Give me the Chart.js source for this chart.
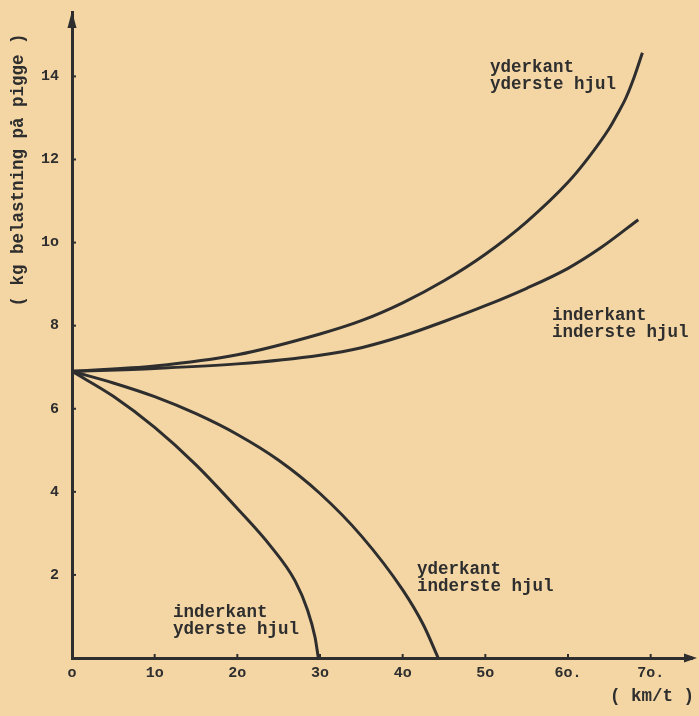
<!DOCTYPE html>
<html>
<head>
<meta charset="utf-8">
<script src="https://cdn.jsdelivr.net/npm/chart.js@4.4.1/dist/chart.umd.min.js"></script>
<style>
html,body{margin:0;padding:0;background:#f4d6a5;}
#wrap{width:699px;height:716px;}
</style>
</head>
<body>
<div id="wrap"><canvas id="c" width="699" height="716"></canvas></div>
<script>
// ---- data ----
const xTicks = [0, 10, 20, 30, 40, 50, 60, 70];
const xTickLabels = ['o', '1o', '2o', '3o', '4o', '5o', '6o.', '7o.'];
const yTicks = [2, 4, 6, 8, 10, 12, 14];
const yTickLabels = ['2', '4', '6', '8', '1o', '12', '14'];

// inderkant yderste hjul
const speedA = [0, 5, 10, 15, 20, 24, 27, 28.5, 29.4, 29.8];
const loadA  = [6.9, 6.3, 5.55, 4.65, 3.6, 2.7, 1.85, 1.15, 0.5, 0];
// yderkant inderste hjul
const speedB = [0, 5, 10, 15, 20, 25, 30, 35, 40, 42.5, 44.3];
const loadB  = [6.9, 6.62, 6.29, 5.88, 5.38, 4.76, 3.96, 2.94, 1.64, 0.8, 0];
// yderkant yderste hjul
const speedC = [0, 10, 20, 30, 35, 40, 45, 50, 55, 60, 62.5, 65, 66, 67, 68, 69];
const loadC  = [6.9, 7.03, 7.3, 7.8, 8.12, 8.55, 9.08, 9.72, 10.5, 11.45, 12.05, 12.75, 13.1, 13.48, 13.98, 14.57];
// inderkant inderste hjul
const speedD = [0, 10, 20, 30, 35, 40, 45, 50, 55, 60, 64, 68.5];
const loadD  = [6.9, 6.97, 7.08, 7.29, 7.47, 7.75, 8.1, 8.48, 8.9, 9.38, 9.88, 10.55];

const yTitle = '( kg belastning på pigge )';
const xTitle = '( km/t )';

// ---- styles ----
const INK = '#2e2e2e';
const PAPER = '#f4d6a5';
const FONT = '"Liberation Mono", "Courier New", monospace';

function pts(xs, ys) { return xs.map((x, i) => ({ x: x, y: ys[i] })); }
function ds(xs, ys) {
  return {
    data: pts(xs, ys), showLine: true, borderColor: INK, borderWidth: 3,
    pointRadius: 0, pointHoverRadius: 0, cubicInterpolationMode: 'monotone', fill: false
  };
}

const labelTexts = [
  { lines: ['yderkant', 'yderste hjul'], x: 490, y: 68 },
  { lines: ['inderkant', 'inderste hjul'], x: 552, y: 316 },
  { lines: ['yderkant', 'inderste hjul'], x: 417, y: 570 },
  { lines: ['inderkant', 'yderste hjul'], x: 173, y: 613 }
];

const decor = {
  id: 'decor',
  beforeDraw(chart) {
    const c = chart.ctx;
    c.save();
    c.fillStyle = PAPER;
    c.fillRect(0, 0, chart.width, chart.height);
    c.restore();
  },
  afterDraw(chart) {
    const c = chart.ctx, a = chart.chartArea;
    const xs = chart.scales.x, ys = chart.scales.y;
    c.save();
    c.fillStyle = INK; c.strokeStyle = INK;
    // arrows
    c.lineWidth = 3;
    c.beginPath(); c.moveTo(a.right, a.bottom); c.lineTo(690, a.bottom); c.stroke();
    c.beginPath(); c.moveTo(697, a.bottom); c.lineTo(684, a.bottom - 4.5); c.lineTo(684, a.bottom + 4.5); c.closePath(); c.fill();
    c.beginPath(); c.moveTo(a.left, a.top - 1); c.lineTo(a.left - 4.5, a.top + 16); c.lineTo(a.left + 4.5, a.top + 16); c.closePath(); c.fill();
    // tick notches
    c.lineWidth = 2;
    yTicks.forEach(v => { const p = ys.getPixelForValue(v); c.beginPath(); c.moveTo(a.left, p); c.lineTo(a.left + 4, p); c.stroke(); });
    xTicks.slice(1).forEach(v => { const p = xs.getPixelForValue(v); c.beginPath(); c.moveTo(p, a.bottom); c.lineTo(p, a.bottom - 4); c.stroke(); });
    // curve labels
    c.font = 'bold 17.5px ' + FONT;
    c.textAlign = 'left'; c.textBaseline = 'middle';
    labelTexts.forEach(l => { l.lines.forEach((t, i) => c.fillText(t, l.x, l.y + i * 17)); });
    // axis titles
    c.fillText(xTitle, 610, 697);
    c.translate(19, 170); c.rotate(-Math.PI / 2);
    c.textAlign = 'center';
    c.fillText(yTitle, 0, 0);
    c.restore();
  }
};

new Chart(document.getElementById('c'), {
  type: 'scatter',
  data: { datasets: [ds(speedA, loadA), ds(speedB, loadB), ds(speedC, loadC), ds(speedD, loadD)] },
  options: {
    responsive: false, animation: false, devicePixelRatio: 1,
    layout: { padding: { left: 0, top: 12, right: 7, bottom: 0 } },
    plugins: { legend: { display: false }, tooltip: { enabled: false } },
    scales: {
      x: {
        type: 'linear', min: 0, max: 75,
        afterBuildTicks: s => { s.ticks = xTicks.map(v => ({ value: v })); },
        afterFit: s => { s.height = 58; s.paddingLeft = 0; s.paddingRight = 0; },
        grid: { display: true, drawOnChartArea: false, drawTicks: false },
        border: { display: true, color: INK, width: 3 },
        ticks: { padding: 6, color: INK, font: { family: FONT, size: 15, weight: 'bold' }, maxRotation: 0, autoSkip: false,
          callback: v => xTickLabels[xTicks.indexOf(v)] }
      },
      y: {
        type: 'linear', min: 0, max: 15.55,
        afterBuildTicks: s => { s.ticks = yTicks.map(v => ({ value: v })); },
        afterFit: s => { s.width = 72; s.paddingTop = 0; s.paddingBottom = 0; },
        grid: { display: true, drawOnChartArea: false, drawTicks: false },
        border: { display: true, color: INK, width: 3 },
        ticks: { padding: 13, color: INK, font: { family: FONT, size: 15, weight: 'bold' }, autoSkip: false,
          callback: v => yTickLabels[yTicks.indexOf(v)] }
      }
    }
  },
  plugins: [decor]
});
</script>
</body>
</html>
